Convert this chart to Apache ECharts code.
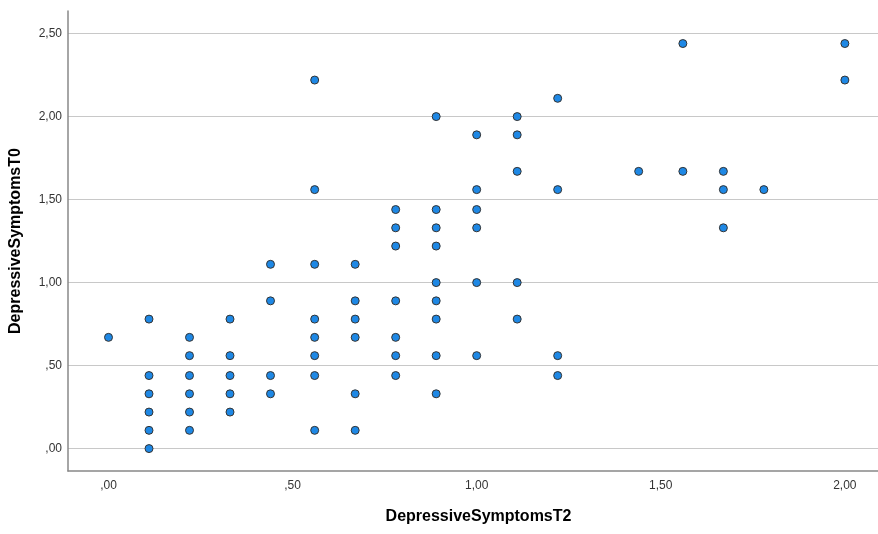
<!DOCTYPE html>
<html>
<head>
<meta charset="utf-8">
<title>DepressiveSymptoms scatter</title>
<script src="https://cdn.jsdelivr.net/npm/echarts@6/dist/echarts.min.js"></script>
<style>
  html, body { margin: 0; padding: 0; background: #fff; }
  #main { width: 878px; height: 534px; }
</style>
</head>
<body>
<div id="main"></div>
<script>
// DepressiveSymptomsT2 (x) and DepressiveSymptomsT0 (y), one entry per point
var xValues = [
  0.00,
  0.11, 0.11, 0.11, 0.11, 0.11, 0.11,
  0.22, 0.22, 0.22, 0.22, 0.22, 0.22,
  0.33, 0.33, 0.33, 0.33, 0.33,
  0.44, 0.44, 0.44, 0.44,
  0.56, 0.56, 0.56, 0.56, 0.56, 0.56, 0.56, 0.56,
  0.67, 0.67, 0.67, 0.67, 0.67, 0.67,
  0.78, 0.78, 0.78, 0.78, 0.78, 0.78, 0.78,
  0.89, 0.89, 0.89, 0.89, 0.89, 0.89, 0.89, 0.89, 0.89,
  1.00, 1.00, 1.00, 1.00, 1.00, 1.00,
  1.11, 1.11, 1.11, 1.11, 1.11,
  1.22, 1.22, 1.22, 1.22,
  1.44,
  1.56, 1.56,
  1.67, 1.67, 1.67,
  1.78,
  2.00, 2.00
];
var yValues = [
  0.67,
  0.78, 0.44, 0.33, 0.22, 0.11, 0.00,
  0.67, 0.56, 0.44, 0.33, 0.22, 0.11,
  0.78, 0.56, 0.44, 0.33, 0.22,
  1.11, 0.89, 0.44, 0.33,
  2.22, 1.56, 1.11, 0.78, 0.67, 0.56, 0.44, 0.11,
  1.11, 0.89, 0.78, 0.67, 0.33, 0.11,
  1.44, 1.33, 1.22, 0.89, 0.67, 0.56, 0.44,
  2.00, 1.44, 1.33, 1.22, 1.00, 0.89, 0.78, 0.56, 0.33,
  1.89, 1.56, 1.44, 1.33, 1.00, 0.56,
  2.00, 1.89, 1.67, 1.00, 0.78,
  2.11, 1.56, 0.56, 0.44,
  1.67,
  2.44, 1.67,
  1.67, 1.56, 1.33,
  1.56,
  2.44, 2.22
];
var xTicks = [0, 0.5, 1, 1.5, 2];
var yTicks = [0, 0.5, 1, 1.5, 2, 2.5];

var points = xValues.map(function (x, i) { return [x, yValues[i]]; });

// SPSS style: comma decimals, no leading zero
function fmt(v) {
  var s = v.toFixed(2).replace('.', ',');
  if (s.indexOf('0,') === 0) s = s.substring(1);
  return s;
}

var chart = echarts.init(document.getElementById('main'));
var labelFont = { color: '#333', fontSize: 12, fontFamily: 'Liberation Sans, Arial, sans-serif' };
var nameFont = { color: '#000', fontSize: 16, fontWeight: 'bold', fontFamily: 'Liberation Sans, Arial, sans-serif' };

chart.setOption({
  animation: false,
  grid: { left: 68, right: 0, top: 11, bottom: 63 },
  xAxis: {
    type: 'value',
    min: -0.11,
    max: 2.09,
    name: 'DepressiveSymptomsT2',
    nameLocation: 'middle',
    nameGap: 38,
    nameTextStyle: Object.assign({ padding: [0, 0, 0, 11] }, nameFont),
    axisLine: { show: true, onZero: false, lineStyle: { color: '#888', width: 1.5 } },
    axisTick: { show: false, customValues: xTicks },
    splitLine: { show: false },
    axisLabel: Object.assign({ customValues: xTicks, margin: 9, formatter: fmt }, labelFont)
  },
  yAxis: {
    type: 'value',
    min: -0.135,
    max: 2.636,
    name: 'DepressiveSymptomsT0',
    nameLocation: 'middle',
    nameGap: 44,
    nameTextStyle: nameFont,
    axisLine: { show: true, onZero: false, lineStyle: { color: '#888', width: 1.5 } },
    axisTick: { show: false, customValues: yTicks },
    splitLine: { show: true, lineStyle: { color: '#c8c8c8', width: 1 } },
    axisLabel: Object.assign({ customValues: yTicks, margin: 6, formatter: fmt }, labelFont)
  },
  series: [{
    type: 'scatter',
    data: points,
    symbol: 'circle',
    symbolSize: 8,
    itemStyle: { color: '#1e88e5', borderColor: '#333', borderWidth: 1, opacity: 1 }
  }]
});
</script>
</body>
</html>
